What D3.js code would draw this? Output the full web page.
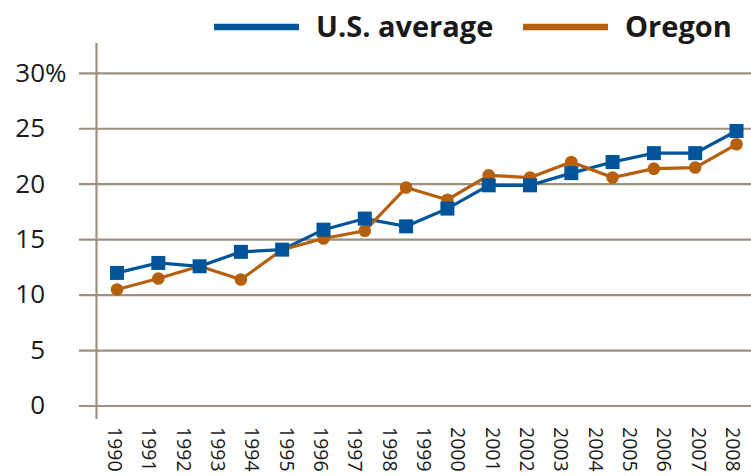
<!DOCTYPE html>
<html>
<head>
<meta charset="utf-8">
<script src="https://cdn.jsdelivr.net/npm/d3@7"></script>
<style>
  body { margin: 0; background: #fff; }
  text { font-family: "Open Sans", "Noto Sans", sans-serif; fill: #1a1a1a; }
</style>
</head>
<body>
<svg id="chart"></svg>
<script>
const years = ['1990','1991','1992','1993','1994','1995','1996','1997','1998','1999',
  '2000','2001','2002','2003','2004','2005','2006','2007','2008'];
const yTicks = [0, 5, 10, 15, 20, 25, 30];

// 16 observations per series, spread across the 1990-2008 span
const usAverage = [12.0, 12.9, 12.6, 13.9, 14.1, 15.9, 16.9, 16.2, 17.8, 19.9,
  19.9, 21.0, 22.0, 22.8, 22.8, 24.8];
const oregon = [10.5, 11.5, 12.6, 11.4, 14.1, 15.1, 15.8, 19.7, 18.6, 20.8,
  20.6, 22.0, 20.6, 21.4, 21.5, 23.6];

const seriesNames = ['U.S. average', 'Oregon'];

const width = 751,
  height = 476;

const blue = '#00559a',
  orange = '#b4600f',
  gridColor = '#9c917f';

const svg = d3.select('#chart')
  .attr('width', width)
  .attr('height', height);

const y = d3.scaleLinear()
  .domain([0, 30])
  .range([406, 73.3]);

const xYear = d3.scalePoint()
  .domain(years)
  .range([115, 733]);

const xPt = d3.scalePoint()
  .domain(d3.range(usAverage.length))
  .range([117, 736.5]);

// grid lines + ticks
svg.append('g')
  .selectAll('line')
  .data(yTicks)
  .enter().append('line')
  .attr('x1', 79)
  .attr('x2', width)
  .attr('y1', d => y(d))
  .attr('y2', d => y(d))
  .attr('stroke', gridColor)
  .attr('stroke-width', 2.2);

svg.append('line')
  .attr('x1', 96.5)
  .attr('x2', 96.5)
  .attr('y1', 43)
  .attr('y2', 419)
  .attr('stroke', gridColor)
  .attr('stroke-width', 2.2);

// y labels
svg.append('g')
  .selectAll('text')
  .data(yTicks)
  .enter().append('text')
  .attr('x', 45)
  .attr('y', d => y(d) - 1)
  .attr('dy', '0.36em')
  .attr('text-anchor', 'end')
  .style('font-size', '26px')
  .text(d => d);

svg.append('text')
  .attr('x', 45)
  .attr('y', y(30) - 1)
  .attr('dy', '0.36em')
  .style('font-size', '26px')
  .text('%');

// x labels, rotated
svg.append('g')
  .selectAll('text')
  .data(years)
  .enter().append('text')
  .attr('transform', d => `translate(${xYear(d)},427) rotate(90)`)
  .attr('dy', '0.36em')
  .style('font-size', '19.5px')
  .text(d => d);

const line = d3.line()
  .x((d, i) => xPt(i))
  .y(d => y(d));

svg.append('path')
  .datum(usAverage)
  .attr('d', line)
  .attr('fill', 'none')
  .attr('stroke', blue)
  .attr('stroke-width', 3.2);

svg.append('path')
  .datum(oregon)
  .attr('d', line)
  .attr('fill', 'none')
  .attr('stroke', orange)
  .attr('stroke-width', 3.2);

svg.append('g')
  .selectAll('circle')
  .data(oregon)
  .enter().append('circle')
  .attr('cx', (d, i) => xPt(i))
  .attr('cy', d => y(d))
  .attr('r', 6.3)
  .attr('fill', orange);

const sq = 14;
svg.append('g')
  .selectAll('rect')
  .data(usAverage)
  .enter().append('rect')
  .attr('x', (d, i) => xPt(i) - sq / 2)
  .attr('y', d => y(d) - sq / 2)
  .attr('width', sq)
  .attr('height', sq)
  .attr('fill', blue);

// legend
const legend = [
  {name: seriesNames[0], color: blue, x: 214},
  {name: seriesNames[1], color: orange, x: 523}
];

const key = svg.append('g')
  .selectAll('g')
  .data(legend)
  .enter().append('g');

key.append('line')
  .attr('x1', d => d.x)
  .attr('x2', d => d.x + 85)
  .attr('y1', 27)
  .attr('y2', 27)
  .attr('stroke', d => d.color)
  .attr('stroke-width', 6.5);

key.append('text')
  .attr('x', d => d.x + 102)
  .attr('y', 27)
  .attr('dy', '0.36em')
  .style('font-size', '29px')
  .style('font-weight', 'bold')
  .text(d => d.name);
</script>
</body>
</html>
